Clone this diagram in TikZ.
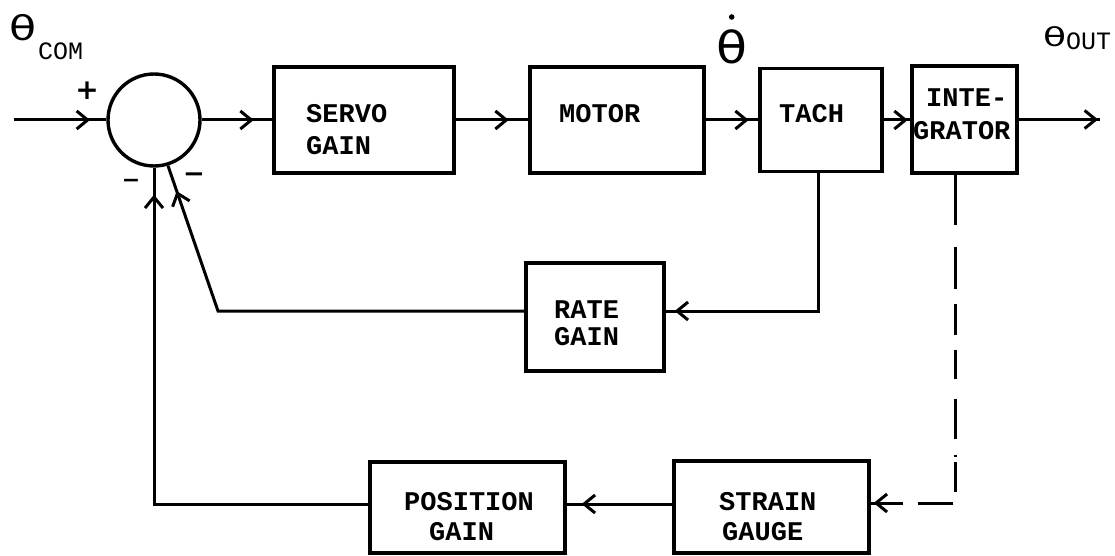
\documentclass[tikz,border=0pt]{standalone}
\usepackage{fontspec}
\usepackage{graphicx}
\setmonofont{Liberation Mono}
\newfontfamily\thfont{DejaVu Sans}
\usetikzlibrary{arrows.meta,decorations.markings}
\begin{document}
\begin{tikzpicture}[x=1pt,y=-1pt,
  box/.style={draw, line width=3.4pt, rectangle, inner sep=0pt},
  sumnode/.style={draw, line width=3.4pt, circle, inner sep=0pt, minimum size=92pt},
  lbl/.style={font=\ttfamily\bfseries\fontsize{27}{27}\selectfont, inner sep=0pt, anchor=base west},
  sublbl/.style={font=\ttfamily\fontsize{25}{25}\selectfont, inner sep=0pt, anchor=base west},
  sign/.style={font=\thfont\bfseries\fontsize{28}{28}\selectfont, inner sep=0pt},
  wire/.style={line width=3pt},
  midarrow/.style={postaction={decorate}, decoration={markings, mark=at position #1 with {\pgfsetdash{}{0pt}\arrow{Straight Barb[length=11pt,width=18pt]}}}},
]
\useasboundingbox (0,0) rectangle (1115,556);

% blocks
\node[sumnode] (sum) at (154,120) {};
\node[box, minimum width=180pt, minimum height=106pt] (servo) at (364,120) {};
\node[box, minimum width=174pt, minimum height=106pt] (motor) at (617,120) {};
\node[box, minimum width=122pt, minimum height=103pt] (tach) at (821,120) {};
\node[box, minimum width=105pt, minimum height=107pt] (integ) at (964.5,119.5) {};
\node[box, minimum width=138pt, minimum height=108pt] (rate) at (595,317) {};
\node[box, minimum width=195pt, minimum height=91pt] (pos) at (467.5,507.5) {};
\node[box, minimum width=195pt, minimum height=92pt] (strain) at (771.5,507) {};

% block texts
\node[lbl] (servoA) at (306,123) {SERVO};
\node[lbl] (servoB) at (306,155) {GAIN};
\node[lbl] (motorA) at (559,123) {MOTOR};
\node[lbl] (tachA) at (779,123) {TACH};
\node[lbl] (integA) at (926,107) {INTE-};
\node[lbl] (integB) at (913,140) {GRATOR};
\node[lbl] (rateA) at (554,318) {RATE};
\node[lbl] (rateB) at (554,345) {GAIN};
\node[lbl] (posA) at (404,510) {POSITION};
\node[lbl] (posB) at (429,540) {GAIN};
\node[lbl] (strainA) at (719,510) {STRAIN};
\node[lbl] (strainB) at (722,540) {GAUGE};

% signal labels
\node[inner sep=0pt, anchor=base west, font=\thfont\fontsize{34}{34}\selectfont] (thcom) at (9,41) {\scalebox{1.3}[1]{θ}};
\node[sublbl] (com) at (38,60) {COM};
\node[inner sep=0pt, anchor=base west, font=\thfont\fontsize{44}{44}\selectfont] (thdot) at (716,64) {\scalebox{1.15}[1]{θ}};
\fill ([yshift=13pt]thdot.north) circle (2.8pt);
\node[inner sep=0pt, anchor=base west, font=\thfont\fontsize{26}{26}\selectfont] (thout) at (1043,47) {\scalebox{1.45}[1]{θ}};
\node[sublbl] (outl) at (1066,50) {OUT};

% signs
\node[sign] (plus) at (87,91) {+};
\node[sign, font=\thfont\bfseries\fontsize{22}{22}\selectfont] (minusA) at (131,183) {−};
\node[sign, font=\thfont\bfseries\fontsize{26}{26}\selectfont] (minusB) at (194,178) {−};

% forward path
\coordinate (in) at (14,120);
\coordinate (out) at (1100,119.5);
\draw[wire, midarrow=76pt] (in) -- (sum.west);
\draw[wire, midarrow=52pt] (sum.east) -- (sum.east -| servo.west);
\draw[wire, midarrow=53pt] (servo.east) -- (servo.east -| motor.west);
\draw[wire, midarrow=43pt] (motor.east) -- (motor.east -| tach.west);
\draw[wire, midarrow=24pt] (tach.east) -- (tach.east -| integ.west);
\draw[wire, midarrow=-2pt] (integ.east) -- (out);

% rate loop
\coordinate (rj) at (218,311);
\draw[wire, midarrow=-9pt] ([xshift=-3pt]tach.south) |- ([yshift=6pt]rate.east);
\draw[wire, midarrow=-27pt] ([yshift=6pt]rate.west) -- (rj) -- (sum.-73);

% position loop
\draw[wire, dash pattern=on 50pt off 22pt on 42pt off 15pt on 31pt off 15pt on 29pt off 20pt on 40pt off 16pt on 2pt off 5pt on 30pt off 13pt on 35pt off 15pt on 60pt, midarrow=-3pt]
  ([xshift=-9.5pt]integ.south) |- ([yshift=4pt]strain.east);
\draw[wire, midarrow=-15pt] ([yshift=3pt]strain.west) -- ([yshift=3pt]strain.west -| pos.east);
\draw[wire, midarrow=-27pt] ([yshift=3pt]pos.west) -| (sum.south);
\end{tikzpicture}
\end{document}
